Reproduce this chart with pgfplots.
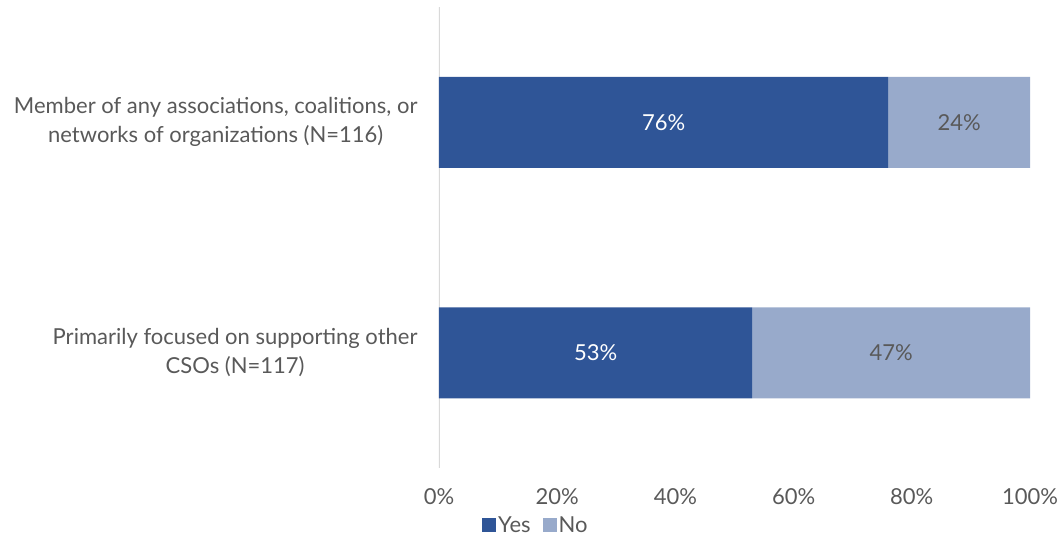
\documentclass[border=0pt]{standalone}
\usepackage{pgfplots}
\pgfplotsset{compat=1.18}
\usepackage{fontspec}
\setmainfont{Lato}
\definecolor{yescol}{HTML}{2F5597}
\definecolor{nocol}{HTML}{98AACB}
\definecolor{txt}{HTML}{595959}
\definecolor{axgray}{HTML}{D9D9D9}
\newcommand{\cf}{\fontsize{22}{29}\selectfont}
\begin{document}
\begin{tikzpicture}[font=\cf, text=txt]
\begin{axis}[
  at={(439pt,71pt)}, anchor=south west,
  scale only axis, width=591pt, height=461pt,
  xbar stacked, bar width=91pt,
  xmin=0, xmax=100, ymin=-0.5, ymax=1.5,
  xtick={0,20,40,60,80,100},
  xticklabel={\pgfmathprintnumber{\tick}\%},
  /pgf/number format/assume math mode=true,
  ytick={0,1},
  yticklabels={{Primarily focused on supporting other\\CSOs (N=117)},{Member of any associations, coalitions, or\\networks of organizations (N=116)}},
  yticklabel style={align=center, text=txt, font=\cf, xshift=-18pt},
  xticklabel style={text=txt, font=\cf, yshift=-17pt},
  major tick length=0pt,
  axis line style={draw=none},
  tick style={draw=none},
  legend style={at={(0.164,-0.124)}, anchor=center, draw=none, fill=none, legend columns=2, font=\cf, text=txt, /tikz/every even column/.append style={column sep=10pt}, /tikz/every odd column/.append style={column sep=0pt}},
  legend image code/.code={\fill[#1] (-4pt,-7pt) rectangle (10pt,7pt);},
  point meta=explicit,
  nodes near coords={\pgfmathprintnumber{\pgfplotspointmeta}\%},
  every node near coord/.append style={font=\cf, anchor=center},
]
\addplot[fill=yescol, draw=none, every node near coord/.append style={text=white}] coordinates {(53,0) [53] (76,1) [76]};
\addplot[fill=nocol, draw=none, every node near coord/.append style={text=txt}] coordinates {(47,0) [47] (24,1) [24]};
\legend{Yes,No}
\draw[axgray, line width=1.2pt] (axis cs:0,-0.5) -- (axis cs:0,1.5);
\end{axis}
\pgfresetboundingbox
\path (0,0) rectangle (1061pt,539pt);
\end{tikzpicture}
\end{document}
